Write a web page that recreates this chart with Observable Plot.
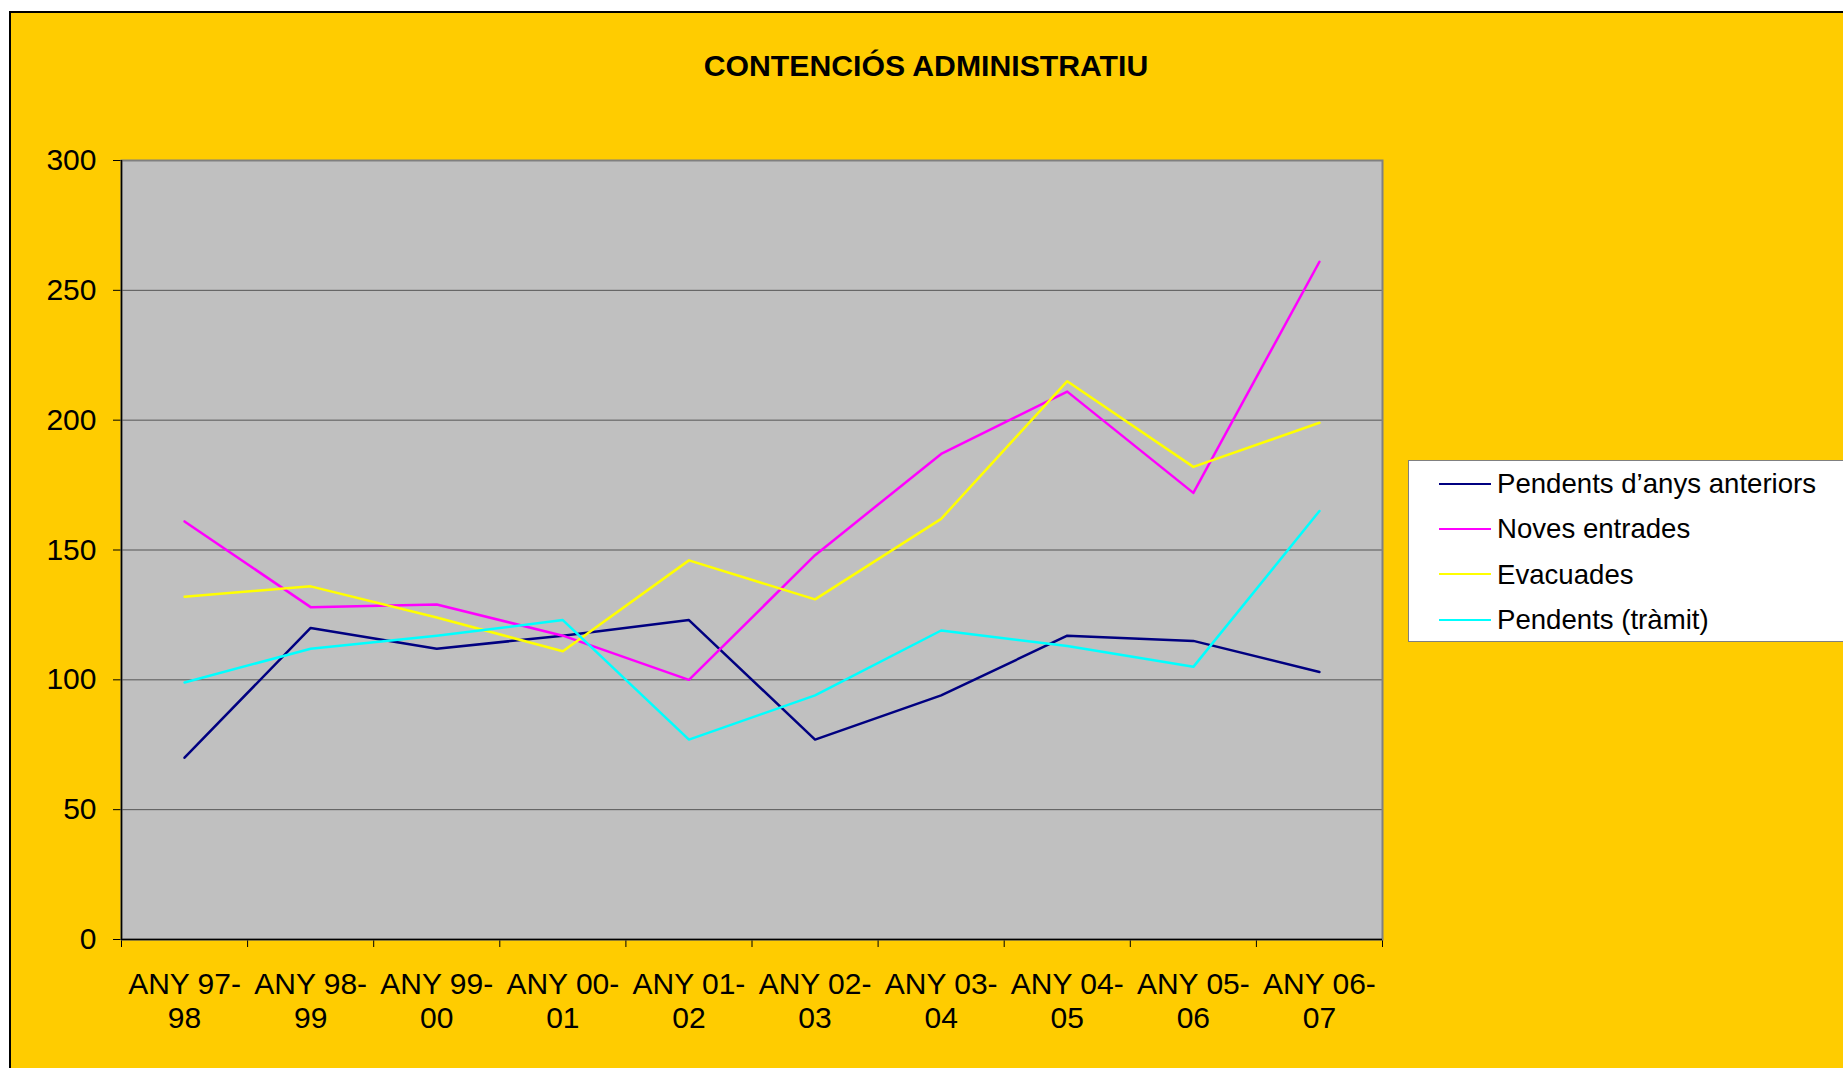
<!DOCTYPE html>
<html>
<head>
<meta charset="utf-8">
<script src="https://cdn.jsdelivr.net/npm/d3@7"></script>
<script src="https://cdn.jsdelivr.net/npm/@observablehq/plot@0.6"></script>
<style>
  html, body { margin: 0; padding: 0; background: #ffffff; width: 1843px; height: 1068px; overflow: hidden; }
  body { font-family: "Liberation Sans", Arial, sans-serif; position: relative; }
  #bg { position: absolute; left: 9px; top: 11px; width: 1834px; height: 1057px; box-sizing: border-box;
        background: #FFCC00; border-top: 2px solid #000; border-left: 2px solid #000; }
  #title { position: absolute; left: 9px; width: 1834px; top: 51px; text-align: center;
           font-size: 30.2px; line-height: 30px; font-weight: bold; color: #000; }
  #chart { position: absolute; left: 0; top: 0; }
  #legend { position: absolute; left: 1408px; top: 460px; width: 500px; height: 182px; box-sizing: border-box;
            background: #fff; border: 1px solid #808080; padding-left: 30px; }
  .row { display: flex; align-items: center; height: 45.3px; font-size: 27.6px; line-height: 45px; color: #000; white-space: nowrap; }
  .sw { width: 52px; height: 2px; margin-right: 6px; flex: none; }
</style>
</head>
<body>
<div id="bg"></div>
<div id="title"></div>
<div id="chart"></div>
<div id="legend"></div>
<script>
const titleText = "CONTENCIÓS ADMINISTRATIU";
const categories = ["ANY 97-98", "ANY 98-99", "ANY 99-00", "ANY 00-01", "ANY 01-02",
                    "ANY 02-03", "ANY 03-04", "ANY 04-05", "ANY 05-06", "ANY 06-07"];
const pendentsAnteriors = [70, 120, 112, 117, 123, 77, 94, 117, 115, 103];
const novesEntrades     = [161, 128, 129, 117, 100, 148, 187, 211, 172, 261];
const evacuades         = [132, 136, 124, 111, 146, 131, 162, 215, 182, 199];
const pendentsTramit    = [99, 112, 117, 123, 77, 94, 119, 113, 105, 165];
const seriesNames  = ["Pendents d\u2019anys anteriors", "Noves entrades", "Evacuades", "Pendents (tràmit)"];
const seriesColors = ["#000080", "#FF00FF", "#FFFF00", "#00FFFF"];
const yTicks = [0, 50, 100, 150, 200, 250, 300];

const seriesValues = [pendentsAnteriors, novesEntrades, evacuades, pendentsTramit];
const table = [];
seriesNames.forEach((name, s) => {
  seriesValues[s].forEach((v, i) => table.push({series: name, cat: categories[i], xi: i + 0.5, value: v}));
});

document.getElementById("title").textContent = titleText;

const W = 1843, H = 1068;
const chart = Plot.plot({
  width: W,
  height: H,
  marginLeft: 121,
  marginRight: W - 1382,
  marginTop: 160,
  marginBottom: H - 939,
  style: {background: "transparent", fontFamily: "\"Liberation Sans\", Arial, sans-serif", fontSize: "30px", color: "#000"},
  x: {domain: [0, categories.length], ticks: categories.length + 1, tickFormat: () => "", tickSize: 8, label: null},
  y: {domain: [0, 300], ticks: yTicks, tickSize: 8, tickPadding: 17, label: null},
  color: {domain: seriesNames, range: seriesColors},
  marks: [
    Plot.frame({fill: "#C0C0C0", stroke: "none"}),
    Plot.ruleY(yTicks, {stroke: "#555555", strokeWidth: 1}),
    Plot.line(table, {x: "xi", y: "value", z: "series", stroke: "series", strokeWidth: 2.5}),
    Plot.frame({stroke: "#808080", strokeWidth: 2}),
    Plot.ruleX([0], {stroke: "#000", strokeWidth: 1.5}),
    Plot.ruleY([0], {stroke: "#000", strokeWidth: 1.5}),
    Plot.text(categories, {
      x: (d, i) => i + 0.5,
      text: d => d.replace("-", "-\n"),
      frameAnchor: "bottom",
      lineAnchor: "top",
      dy: 30,
      fontSize: 30,
      lineHeight: 1.14,
      fill: "#000"
    })
  ]
});
document.getElementById("chart").appendChild(chart);

const legend = document.getElementById("legend");
seriesNames.forEach((name, i) => {
  const row = document.createElement("div");
  row.className = "row";
  const sw = document.createElement("span");
  sw.className = "sw";
  sw.style.background = seriesColors[i];
  const t = document.createElement("span");
  t.textContent = name;
  row.appendChild(sw);
  row.appendChild(t);
  legend.appendChild(row);
});
</script>
</body>
</html>
